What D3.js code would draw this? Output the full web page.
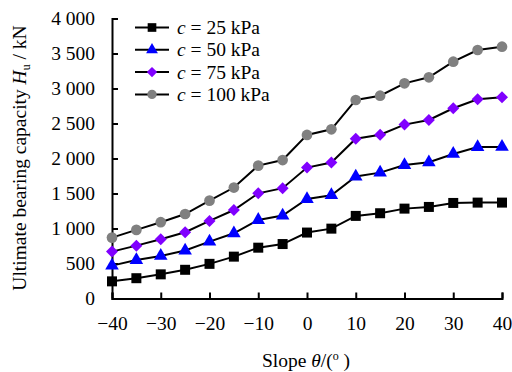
<!DOCTYPE html>
<html><head><meta charset="utf-8">
<script src="https://cdn.jsdelivr.net/npm/d3@7/dist/d3.min.js"></script>
<style>body{margin:0;background:#fff}svg{display:block}</style>
</head><body>
<svg id="c" width="512" height="372"></svg>
<script>
const slopes = [-40,-35,-30,-25,-20,-15,-10,-5,0,5,10,15,20,25,30,35,40];
const c25  = [245,290,345,410,495,598,726,778,942,998,1180,1218,1284,1308,1365,1370,1370];
const c50  = [470,550,608,685,812,932,1122,1185,1421,1476,1742,1798,1906,1946,2065,2164,2165];
const c75  = [670,755,846,946,1108,1264,1502,1576,1870,1942,2282,2340,2484,2550,2718,2846,2874];
const c100 = [870,980,1090,1207,1398,1585,1898,1978,2337,2417,2836,2897,3074,3160,3383,3550,3597];
const seriesLabels = ["25","50","75","100"];
const xTicks = [-40,-30,-20,-10,0,10,20,30,40];
const yTicks = [0,500,1000,1500,2000,2500,3000,3500,4000];

const diamond = {draw(ctx, size){ const r = Math.sqrt(size/2); ctx.moveTo(0,-r); ctx.lineTo(r,0); ctx.lineTo(0,r); ctx.lineTo(-r,0); ctx.closePath(); }};
const series = [
  {label: seriesLabels[0], values: c25,  shape: d3.symbolSquare,   color: "#000000", size: 100},
  {label: seriesLabels[1], values: c50,  shape: d3.symbolTriangle, color: "#0000ff", size: 80},
  {label: seriesLabels[2], values: c75,  shape: diamond,           color: "#8000ff", size: 72},
  {label: seriesLabels[3], values: c100, shape: d3.symbolCircle,   color: "#808080", size: 90}
];

const svg = d3.select("#c");
const font = "'Liberation Serif','Times New Roman',serif";
const fs = 19.5;
const x = d3.scaleLinear().domain([-40,40]).range([112,502]);
const y = d3.scaleLinear().domain([0,4000]).range([298.5,18.5]);
const fmt = v => v >= 1000 ? Math.floor(v/1000) + " " + String(v%1000).padStart(3,"0") : String(v);

// axes
const xa = svg.append("g").attr("transform","translate(0,298.5)")
  .call(d3.axisBottom(x).tickValues(xTicks).tickSizeInner(-6).tickSizeOuter(-6).tickPadding(18).tickFormat(d => d < 0 ? "\u2212" + (-d) : d));
const ya = svg.append("g").attr("transform","translate(112,0)")
  .call(d3.axisLeft(y).tickValues(yTicks).tickSizeInner(-6).tickSizeOuter(-6).tickPadding(17).tickFormat(fmt));
[xa, ya].forEach(a => {
  a.selectAll("path,line").attr("stroke","#000").attr("stroke-width",2);
  a.selectAll("text").attr("font-family",font).attr("font-size",fs).attr("fill","#000");
});

// lines & markers
const line = d3.line().x((d,i) => x(slopes[i])).y(d => y(d));
series.forEach(s => {
  svg.append("path").datum(s.values).attr("d", line)
    .attr("fill","none").attr("stroke","#000").attr("stroke-width",2);
  svg.append("g").selectAll("path").data(s.values).join("path")
    .attr("d", d3.symbol().type(s.shape).size(s.size))
    .attr("transform",(d,i) => `translate(${x(slopes[i])},${y(d)})`)
    .attr("fill", s.color);
});

// legend
const lg = svg.append("g");
series.forEach((s,i) => {
  const yy = 27.5 + i*22.3;
  lg.append("line").attr("x1",135).attr("x2",169).attr("y1",yy).attr("y2",yy).attr("stroke","#000").attr("stroke-width",2);
  lg.append("path").attr("d", d3.symbol().type(s.shape).size(s.size*0.75)).attr("transform",`translate(152,${yy})`).attr("fill",s.color);
  const t = lg.append("text").attr("x",177).attr("y",yy+6.5).attr("font-family",font).attr("font-size",fs);
  t.append("tspan").attr("font-style","italic").text("c");
  t.append("tspan").text(" = " + s.label + " kPa");
});

// axis titles
const yt = svg.append("text").attr("transform","translate(26,158) rotate(-90)").attr("text-anchor","middle")
  .attr("font-family",font).attr("font-size",fs);
yt.append("tspan").text("Ultimate bearing capacity ");
yt.append("tspan").attr("font-style","italic").text("H");
yt.append("tspan").attr("font-size",12).attr("dy",4).text("u");
yt.append("tspan").attr("dy",-4).text(" / kN");

const xt = svg.append("text").attr("x",306).attr("y",367).attr("text-anchor","middle")
  .attr("font-family",font).attr("font-size",fs);
xt.append("tspan").text("Slope ");
xt.append("tspan").attr("font-style","italic").text("\u03b8");
xt.append("tspan").text("/(");
xt.append("tspan").attr("font-size",12).attr("dy",-7).text("o");
xt.append("tspan").attr("dy",7).text(" )");
</script>
</body></html>
